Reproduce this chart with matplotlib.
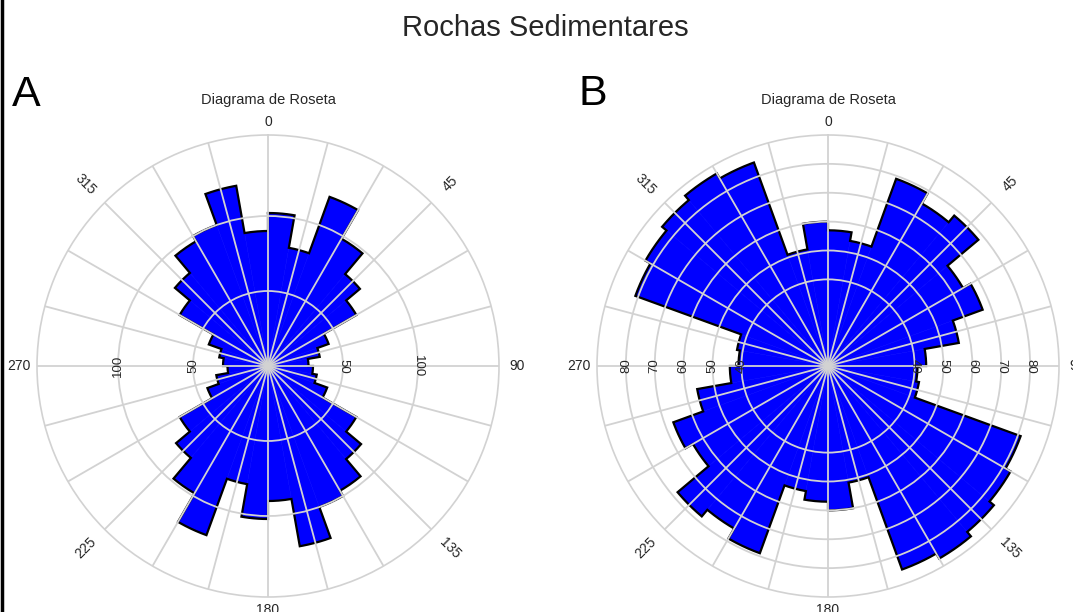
import numpy as np
import matplotlib
matplotlib.use("Agg")
import matplotlib.pyplot as plt
from matplotlib.lines import Line2D

plt.rcParams['font.family'] = ['Liberation Sans', 'DejaVu Sans']

# ---- data ----
bin_start = list(range(0, 360, 10))   # degrees (strike bins, 10 deg wide)
bin_width = 10
counts_A = [102, 80, 120, 98, 80, 68, 43, 35, 27, 30, 33, 42, 68, 81, 96, 100, 122, 90,
            102, 80, 120, 98, 80, 68, 43, 35, 27, 30, 33, 42, 68, 81, 96, 100, 122, 90]
counts_B = [57, 54, 79, 75, 78, 64, 67, 56, 44, 41, 42, 81, 83, 85, 87, 85, 51, 60,
            57, 54, 79, 75, 78, 64, 67, 56, 44, 41, 42, 81, 83, 85, 87, 85, 51, 60]
rticks_A = [50, 100]
rlim_A = (0, 154)
rticks_B = [40, 50, 60, 70, 80]
rlim_B = (10, 90)
theta_labels = ['0', '45', '90', '135', '180', '225', '270', '315']
title = 'Rochas Sedimentares'
subtitle = 'Diagrama de Roseta'
panel_letters = ['A', 'B']

W, H = 1073, 612
fig = plt.figure(figsize=(W / 100, H / 100), dpi=100)
fig.patch.set_facecolor('white')

R = 231
centers = [(268, 366), (828, 366)]
GRID = '#d2d2d2'
TXT = '#262626'
BLUE = '#0000ff'


def rose(ax, counts, rlim, rticks):
    ax.set_theta_zero_location('N')
    ax.set_theta_direction(-1)
    starts = np.array(bin_start, dtype=float)
    vals = np.array(counts, dtype=float)
    th = np.deg2rad(starts)
    w = np.deg2rad(bin_width)
    ax.bar(th, vals - rlim[0], width=w, bottom=rlim[0], align='edge',
           color=BLUE, edgecolor=BLUE, linewidth=0.4, zorder=1)
    # outer outline of the rose (arcs + steps between bins)
    ot, orr = [], []
    for t0, v in zip(th, vals):
        arc = np.linspace(t0, t0 + w, 12)
        ot.extend(arc)
        orr.extend([v] * len(arc))
    ot.append(ot[0])
    orr.append(orr[0])
    ax.plot(ot, orr, color='black', linewidth=1.6, zorder=1.5, solid_joinstyle='miter')
    ax.set_ylim(*rlim)
    ax.set_rticks(rticks)
    ax.set_yticklabels([])
    ax.set_thetagrids(np.arange(0, 360, 15), labels=[''] * 24)
    ax.grid(True, color=GRID, linewidth=1.3)
    ax.set_axisbelow(False)
    ax.spines['polar'].set_color(GRID)
    ax.spines['polar'].set_linewidth(1.2)
    ax.tick_params(length=0)
    # theta labels
    rot = {0: 0, 45: 45, 90: 0, 135: -45, 180: 0, 225: 45, 270: 0, 315: -45}
    for lab in theta_labels:
        a = int(lab)
        if a in (0, 180):
            pad = 1.058
        elif a in (90, 270):
            pad = 1.08
        else:
            pad = 1.115
        x = 0.5 + 0.5 * pad * np.sin(np.deg2rad(a))
        y = 0.5 + 0.5 * pad * np.cos(np.deg2rad(a))
        ax.text(x, y, lab, transform=ax.transAxes, ha='center', va='center',
                rotation=rot[a], fontsize=10, color=TXT)
    # radial labels on both sides
    for v in rticks:
        ax.text(np.deg2rad(90), v, str(v), rotation=-90, ha='center', va='center',
                fontsize=9.5, color=TXT, zorder=5)
        ax.text(np.deg2rad(270), v, str(v), rotation=90, ha='center', va='center',
                fontsize=9.5, color=TXT, zorder=5)


for (cx, cy), counts, rlim, rticks in zip(
        centers, [counts_A, counts_B], [rlim_A, rlim_B], [rticks_A, rticks_B]):
    ax = fig.add_axes([(cx - R) / W, (H - cy - R) / H, 2 * R / W, 2 * R / H], projection='polar')
    rose(ax, counts, rlim, rticks)
    fig.text(cx / W, 1 - 100 / H, subtitle, ha='center', va='center', fontsize=10.5, color=TXT)

fig.text(26 / W, 1 - 95 / H, panel_letters[0], ha='center', va='center', fontsize=31, color='black')
fig.text(593 / W, 1 - 94 / H, panel_letters[1], ha='center', va='center', fontsize=31, color='black')
fig.text(545 / W, 1 - 28 / H, title, ha='center', va='center', fontsize=21, color=TXT)

# left frame line
fig.add_artist(Line2D([2 / W, 2 / W], [0, 1], transform=fig.transFigure, color='black', linewidth=2.5))

fig.savefig('out.png', dpi=100)
